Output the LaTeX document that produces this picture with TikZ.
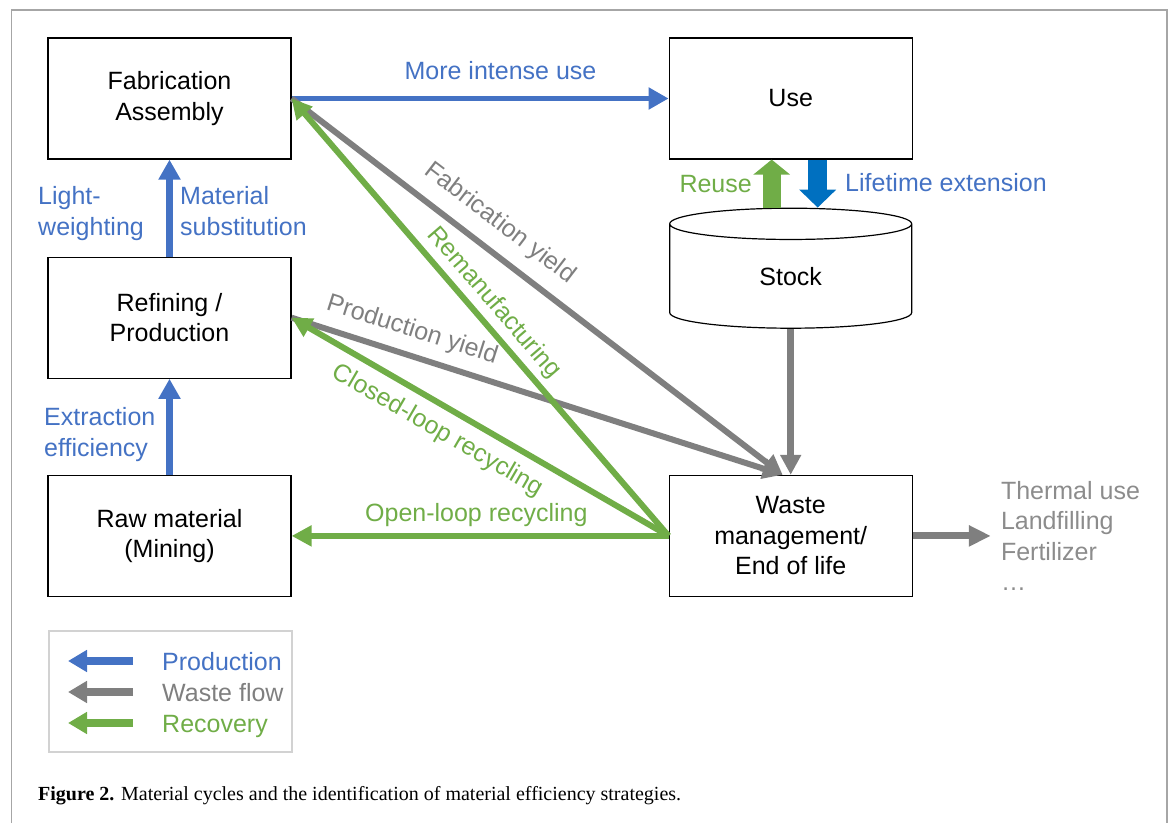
\documentclass[tikz,border=0pt]{standalone}
\usepackage{fontspec}
\setmainfont{Liberation Sans}
\newfontfamily\capfont{Liberation Serif}
\usetikzlibrary{shapes.geometric, arrows.meta, positioning}

\definecolor{prodblue}{RGB}{68,114,196}
\definecolor{wastegray}{RGB}{127,127,127}
\definecolor{recgreen}{RGB}{112,173,71}
\definecolor{lifeblue}{RGB}{0,112,192}
\definecolor{framegray}{RGB}{166,166,166}
\definecolor{legendgray}{RGB}{210,210,210}
\definecolor{endgray}{RGB}{140,140,140}

\begin{document}
\begin{tikzpicture}[
    x=1pt, y=-1pt,
    font=\fontsize{25}{30.5}\selectfont,
    box/.style={rectangle, draw, line width=1.2pt, minimum width=243pt, minimum height=121pt, align=center, inner sep=0pt},
    lbl/.style={inner sep=0pt, align=left},
    prod/.style={draw=prodblue, line width=7pt, -{Triangle[length=20pt, width=21pt]}},
    waste/.style={draw=wastegray, line width=6pt, -{Triangle[length=20pt, width=20pt]}},
    recov/.style={draw=recgreen, line width=6pt, -{Triangle[length=20pt, width=20pt]}},
    key/.style={line width=8pt, -{Triangle[length=19pt, width=21pt]}}
]
    \useasboundingbox (0,0) rectangle (1173,823);
    \draw[framegray, line width=1.5pt] (11.5,823) -- (11.5,10) -- (1167,10) -- (1167,823);

    % process boxes
    \node[box] (fab) at (169.5,98.5) {Fabrication\\Assembly};
    \node[box, below=97pt of fab] (ref) {Refining /\\Production};
    \node[box, below=96pt of ref] (raw) {Raw material\\(Mining)};
    \node[box, right=377pt of fab] (use) {Use};
    \node[box, right=377pt of raw] (wm) {Waste\\management/\\End of life};
    \node[cylinder, draw, line width=1.2pt, shape border rotate=90, aspect=0.5,
          minimum width=242pt, minimum height=120pt, inner sep=0pt, below=48pt of use] (stock) {Stock};
    \node[lbl, text=endgray, right=88pt of wm] (ends) {Thermal use\\Landfilling\\Fertilizer\\\dots};
    \coordinate (wtop) at ([xshift=-8pt]wm.north);

    % production
    \draw[prod, line width=5pt] (fab.east) -- node[sloped, pos=0.554, above=16pt, inner sep=0pt, text=prodblue] {More intense use} (fab.east -| use.west);
    \draw[prod] (ref.north) -- (fab.south);
    \draw[prod] (raw.north) -- (ref.south);
    \node[lbl, text=prodblue, anchor=west] (lw) at (38,213.5) {Light-\\weighting};
    \node[lbl, text=prodblue, anchor=west] (ms) at (180,211) {Material\\substitution};
    \node[lbl, text=prodblue, anchor=west] (ee) at (44,434.5) {Extraction\\efficiency};

    % use and stock
    \draw[draw=recgreen, line width=18pt, -{Triangle[length=15pt, width=36pt]}] ([xshift=-19pt]stock.north) -- ([xshift=-19pt]use.south);
    \draw[draw=lifeblue, line width=19pt, -{Triangle[length=18pt, width=36pt]}] ([xshift=27pt]use.south) -- ([xshift=27pt]stock.north);
    \node[lbl, text=recgreen, anchor=east] (reuse) at (752,184) {Reuse};
    \node[lbl, text=prodblue, anchor=west] (life) at (845,183) {Lifetime extension};

    % waste flows
    \draw[waste, line width=7pt] (stock.south) -- (wm.north);
    \draw[waste] (fab.east) -- node[sloped, pos=0.39, above=13pt, inner sep=0pt, text=wastegray] {Fabrication yield} (wtop);
    \draw[waste] (ref.east) -- node[sloped, pos=0.23, above=10pt, inner sep=0pt, text=wastegray] {Production yield} (wtop);
    \draw[waste, line width=7pt, -{Triangle[length=22pt, width=20pt]}] (wm.east) -- ([xshift=-10pt]ends.west);

    % recovery
    \draw[recov] (wm.west) -- node[sloped, pos=0.503, above=5pt, inner sep=0pt, text=recgreen] {Remanufacturing} (fab.east);
    \draw[recov] (wm.west) -- node[sloped, pos=0.58, below=10pt, inner sep=0pt, text=recgreen] {Closed-loop recycling} (ref.east);
    \draw[recov] (wm.west) -- node[pos=0.51, above=6.5pt, inner sep=0pt, text=recgreen] {Open-loop recycling} (raw.east);

    % legend
    \node[draw=legendgray, line width=1.2pt, minimum width=243pt, minimum height=121pt] (legend) at (170.5,691.5) {};
    \node[lbl, text=prodblue, anchor=base west] (lprod) at (162,670) {Production};
    \node[lbl, text=wastegray, anchor=base west] (lwaste) at (162,701) {Waste flow};
    \node[lbl, text=recgreen, anchor=base west] (lrec) at (162,732) {Recovery};
    \draw[key, prodblue] ([xshift=-29pt,yshift=9pt]lprod.base west) -- ++(-65pt,0);
    \draw[key, wastegray] ([xshift=-29pt,yshift=9pt]lwaste.base west) -- ++(-65pt,0);
    \draw[key, recgreen] ([xshift=-29pt,yshift=9pt]lrec.base west) -- ++(-65pt,0);

    \node[anchor=base west, inner sep=0pt, font=\capfont\fontsize{20}{24}\selectfont] (caption) at (38,800)
        {\textbf{Figure 2.} Material cycles and the identification of material efficiency strategies.};
\end{tikzpicture}
\end{document}
